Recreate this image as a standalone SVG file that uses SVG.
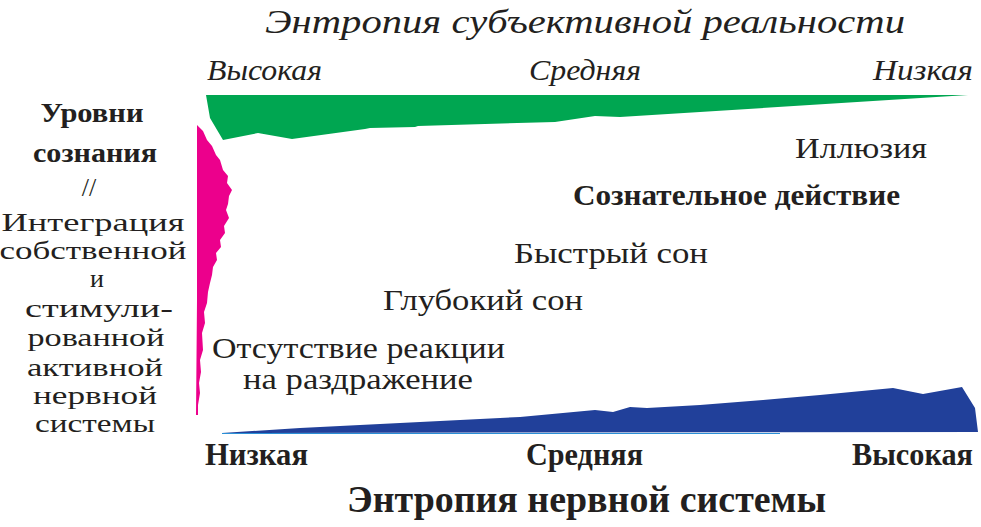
<svg xmlns="http://www.w3.org/2000/svg" width="981" height="527" viewBox="0 0 981 527" font-family="'Liberation Serif', 'Times New Roman', 'DejaVu Serif', serif">
<style>
text{font-family:'Liberation Serif','Times New Roman','DejaVu Serif',serif;fill:#231f20}
.it{font-style:italic;font-size:30px}
.b{font-weight:bold}
.lv{font-size:30px}
.sl{font-size:26px;text-anchor:middle}
.slb{font-size:28px;text-anchor:middle;font-weight:bold}
</style>
<rect width="981" height="527" fill="#ffffff"/>
<g id="subjective-entropy-band">
<path d="M206,95 L968,95 L873,101 L620,117 L595,116 L555,122 L418,126 L415,127 L370,128 L365,129 L292,139 L258,133 L223,140 L210,118 Z" fill="#00a651"/>
</g>
<g id="consciousness-band">
<path d="M197,125 L203,131 L207,140 L212,146 L216,155 L220,160 L223,170 L228,176 L227,183 L232,190 L229,196 L228,204 L226,210 L229,218 L224,226 L225,233 L220,240 L221,247 L216,253 L217,260 L213,267 L212,275 L210,283 L208,292 L207,303 L204,312 L205,323 L202,333 L203,350 L200,360 L201,372 L199,383 L200,393 L198,405 L198,415 L196,415 L197,300 Z" fill="#ec008c"/>
</g>
<g id="neural-entropy-band">
<path d="M222,433 L300,428 L420,422 L520,417 L595,410 L613,412 L630,407 L647,408 L700,405 L763,400 L820,395 L893,388 L923,394 L962,387 L975,408 L978,432 Z" fill="#21409a"/>
<line x1="222" y1="433.5" x2="780" y2="433.5" stroke="#2a8fd6" stroke-width="1.2"/>
</g>
<g id="top-axis">
<text x="585" y="33" class="it" text-anchor="middle" textLength="640" lengthAdjust="spacingAndGlyphs" style="font-size:33px">Энтропия субъективной реальности</text>
<text x="207" y="80" class="it" textLength="115" lengthAdjust="spacingAndGlyphs">Высокая</text>
<text x="529" y="80" class="it" textLength="112" lengthAdjust="spacingAndGlyphs">Средняя</text>
<text x="873" y="80" class="it" textLength="100" lengthAdjust="spacingAndGlyphs">Низкая</text>
</g>
<g id="left-label">
<text x="92" y="122" class="slb" textLength="103" lengthAdjust="spacingAndGlyphs">Уровни</text>
<text x="95" y="162" class="slb" textLength="124" lengthAdjust="spacingAndGlyphs">сознания</text>
<text x="89" y="196" class="sl">//</text>
<text x="93" y="231" class="sl" textLength="183" lengthAdjust="spacingAndGlyphs">Интеграция</text>
<text x="93" y="259" class="sl" textLength="187" lengthAdjust="spacingAndGlyphs">собственной</text>
<text x="97" y="287" class="sl">и</text>
<text x="99" y="317" class="sl" textLength="148" lengthAdjust="spacingAndGlyphs">стимули-</text>
<text x="96" y="346" class="sl" textLength="137" lengthAdjust="spacingAndGlyphs">рованной</text>
<text x="95" y="376" class="sl" textLength="136" lengthAdjust="spacingAndGlyphs">активной</text>
<text x="95" y="404" class="sl" textLength="124" lengthAdjust="spacingAndGlyphs">нервной</text>
<text x="95" y="432" class="sl" textLength="120" lengthAdjust="spacingAndGlyphs">системы</text>
</g>
<g id="state-illusion"><text x="795" y="158" class="lv" textLength="132" lengthAdjust="spacingAndGlyphs">Иллюзия</text></g>
<g id="state-conscious-action"><text x="573" y="205" class="lv b" textLength="327" lengthAdjust="spacingAndGlyphs">Сознательное действие</text></g>
<g id="state-rem"><text x="514" y="263" class="lv" textLength="194" lengthAdjust="spacingAndGlyphs">Быстрый сон</text></g>
<g id="state-deep-sleep"><text x="383" y="310" class="lv" textLength="200" lengthAdjust="spacingAndGlyphs">Глубокий сон</text></g>
<g id="state-no-response">
<text x="212" y="358" class="lv" textLength="293" lengthAdjust="spacingAndGlyphs">Отсутствие реакции</text>
<text x="243" y="389" class="lv" textLength="230" lengthAdjust="spacingAndGlyphs">на раздражение</text>
</g>
<g id="bottom-axis">
<text x="205" y="465" class="b" style="font-size:31px" textLength="103" lengthAdjust="spacingAndGlyphs">Низкая</text>
<text x="526" y="465" class="b" style="font-size:31px" textLength="117" lengthAdjust="spacingAndGlyphs">Средняя</text>
<text x="852" y="465" class="b" style="font-size:31px" textLength="121" lengthAdjust="spacingAndGlyphs">Высокая</text>
<text x="347" y="512" class="b" style="font-size:37px" textLength="479" lengthAdjust="spacingAndGlyphs">Энтропия нервной системы</text>
</g>
</svg>
